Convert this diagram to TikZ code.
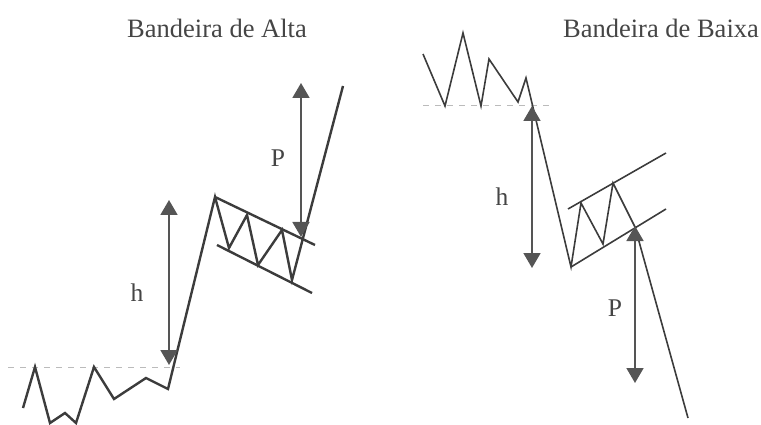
\documentclass[tikz,border=0pt]{standalone}
\usepackage{fontspec}
\setmainfont{Liberation Serif}
\usetikzlibrary{arrows.meta}

\definecolor{pricegray}{HTML}{3C3C3C}
\definecolor{arrowgray}{HTML}{555555}
\definecolor{textgray}{HTML}{454545}
\definecolor{dashgray}{HTML}{BBBBBB}

\begin{document}
\begin{tikzpicture}[
    x=1pt, y=-1pt,
    >={Triangle[width=17pt,length=15pt]}, % filled arrow heads
    price/.style={pricegray, line join=miter}, % price line
    measure/.style={arrowgray, line width=1.8pt, <->}, % h and P
    level/.style={dashgray, line width=0.9pt, dash pattern=on 6pt off 6pt}, % support level
    labelstyle/.style={textgray, font=\fontsize{25.5}{30}\selectfont, anchor=base}
]
    \useasboundingbox (0,0) rectangle (761,425);

    % Titles
    \node[labelstyle, font=\fontsize{26.5}{32}\selectfont] (tup) at (217,38) {Bandeira de Alta};
    \node[labelstyle, font=\fontsize{26.5}{32}\selectfont] (tdown) at (661,38) {Bandeira de Baixa};

    % --- Bull flag (left) ---
    \draw[level] (8,367) -- (180,367);
    \draw[price, line width=2.4pt] (23,408) -- (35,367) -- (50,423) -- (65,413) -- (76,423)
        -- (94,367) -- (114,399) -- (146,378) -- (168,389) -- (215,197)
        -- (229,248) -- (247,215) -- (258,265) -- (282,230) -- (292,280) -- (343,86);
    % flag channel
    \draw[price, line width=2.4pt] (215,197) -- (315,245);
    \draw[price, line width=2.4pt] (217,245) -- (312,293);

    % Key points of the measures
    \coordinate (hUpT) at (169,200); % top of h
    \coordinate (hUpB) at (169,365); % bottom of h
    \coordinate (pUpT) at (301,83);  % top of P
    \coordinate (pUpB) at (301,237); % bottom of P

    \draw[measure] (hUpB) -- (hUpT);
    \draw[measure] (pUpB) -- (pUpT);
    \node[labelstyle] (hup) at (137,301) {h};
    \node[labelstyle] (pup) at (278,167) {P};

    % --- Bear flag (right) ---
    \draw[level] (423,105) -- (552,105);
    \draw[price, line width=1.6pt] (423,54) -- (445,106) -- (463,33) -- (481,106) -- (489,59)
        -- (518,102) -- (526,78) -- (571,267) -- (581,203) -- (603,244) -- (613,183)
        -- (635,227) -- (688,418);
    % flag channel
    \draw[price, line width=1.6pt] (568,209) -- (666,153);
    \draw[price, line width=1.6pt] (571,267) -- (666,209);

    \coordinate (hDnT) at (532,106); % top of h
    \coordinate (hDnB) at (532,268); % bottom of h
    \coordinate (pDnT) at (635,226); % top of P
    \coordinate (pDnB) at (635,383); % bottom of P

    \draw[measure] (hDnB) -- (hDnT);
    \draw[measure] (pDnB) -- (pDnT);
    \node[labelstyle] (hdown) at (502,206) {h};
    \node[labelstyle] (pdown) at (615,316) {P};

\end{tikzpicture}
\end{document}
